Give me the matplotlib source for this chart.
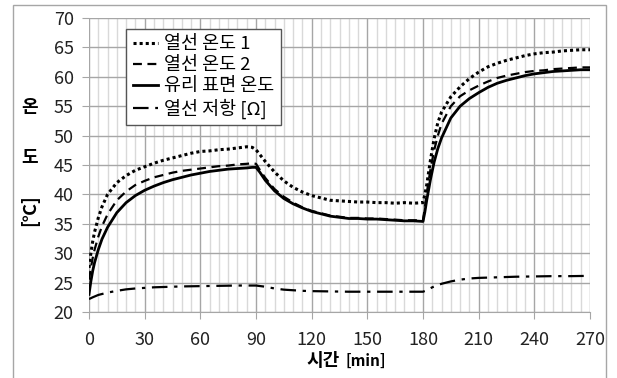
import matplotlib
matplotlib.use("Agg")
import matplotlib.pyplot as plt
from matplotlib.ticker import MultipleLocator
from matplotlib.patches import Rectangle

plt.rcParams['font.family'] = ['Noto Sans CJK KR', 'DejaVu Sans']

# time axis [min] for the temperature series
t = [0, 1, 2, 3, 5, 7, 10, 15, 20, 25, 30, 35, 40, 45, 50, 55, 60, 65, 70, 75, 80, 85, 88, 90,
     92, 95, 100, 105, 110, 115, 120, 125, 130, 135, 140, 145, 150, 155, 160, 165, 170, 175, 180,
     181, 182, 184, 186, 188, 190, 195, 200, 205, 210, 215, 220, 225, 230, 235, 240, 245, 250,
     255, 260, 265, 270]

wire_temp1 = [27.5, 30.0, 32.0, 33.6, 36.0, 37.9, 40.0, 42.0, 43.2, 44.1, 44.7, 45.3, 45.8, 46.2,
              46.6, 47.0, 47.3, 47.4, 47.6, 47.7, 47.9, 48.1, 48.0, 47.6,
              46.8, 45.6, 43.8, 42.3, 41.2, 40.4, 39.8, 39.4, 39.0, 38.9, 38.8, 38.7, 38.7, 38.6,
              38.6, 38.5, 38.6, 38.5, 38.6,
              40.0, 41.6, 45.8, 49.5, 52.2, 54.0, 56.6, 58.3, 59.7, 60.8, 61.7, 62.3, 62.8, 63.2,
              63.6, 63.9, 64.1, 64.2, 64.4, 64.5, 64.6, 64.6]

wire_temp2 = [25.5, 27.5, 29.2, 30.6, 32.8, 34.6, 36.6, 39.0, 40.5, 41.6, 42.3, 42.9, 43.3, 43.7,
              44.0, 44.2, 44.4, 44.6, 44.8, 44.9, 45.1, 45.2, 45.3, 45.2,
              44.2, 42.8, 40.9, 39.6, 38.6, 37.8, 37.2, 36.8, 36.4, 36.2, 36.0, 36.0, 35.9, 35.9,
              35.8, 35.7, 35.6, 35.6, 35.6,
              37.8, 40.2, 44.2, 47.5, 50.0, 52.0, 55.0, 56.7, 57.7, 58.5, 59.2, 59.8, 60.2, 60.5,
              60.8, 61.0, 61.1, 61.3, 61.4, 61.5, 61.6, 61.6]

glass_temp = [23.0, 25.2, 27.0, 28.4, 30.6, 32.4, 34.4, 36.9, 38.6, 39.8, 40.7, 41.4, 42.0, 42.5,
              42.9, 43.3, 43.6, 43.9, 44.1, 44.3, 44.4, 44.5, 44.6, 44.6,
              43.8, 42.4, 40.6, 39.3, 38.4, 37.7, 37.1, 36.7, 36.3, 36.1, 35.9, 35.9, 35.8, 35.8,
              35.7, 35.6, 35.5, 35.5, 35.4,
              37.0, 39.0, 42.5, 45.5, 47.8, 49.6, 53.0, 55.0, 56.3, 57.3, 58.2, 58.9, 59.4, 59.8,
              60.2, 60.5, 60.7, 60.9, 61.0, 61.1, 61.2, 61.2]

# wire resistance [Ohm]
t_res = [0, 2, 5, 10, 15, 20, 25, 30, 35, 40, 45, 50, 60, 70, 80, 90, 95, 100, 105, 110, 115, 120,
         130, 140, 150, 160, 170, 180, 182, 185, 190, 195, 200, 205, 210, 220, 230, 240, 250, 260, 270]
wire_res = [22.2, 22.5, 22.9, 23.3, 23.6, 23.85, 24.0, 24.1, 24.2, 24.25, 24.3, 24.35, 24.4, 24.45,
            24.5, 24.5, 24.3, 24.0, 23.8, 23.7, 23.6, 23.55, 23.5, 23.45, 23.45, 23.45, 23.45, 23.45,
            23.7, 24.2, 24.8, 25.2, 25.5, 25.7, 25.8, 25.9, 26.0, 26.05, 26.1, 26.1, 26.15]

labels = ['열선 온도 1', '열선 온도 2', '유리 표면 온도', '열선 저항 [Ω]']
x_ticks = [0, 30, 60, 90, 120, 150, 180, 210, 240, 270]
y_ticks = [20, 25, 30, 35, 40, 45, 50, 55, 60, 65, 70]

W, H = 617, 378
fig = plt.figure(figsize=(W / 100, H / 100), dpi=100)
ax = fig.add_axes([89 / W, 1 - 312 / H, (590 - 89) / W, (312 - 18) / H])

# outer border
fig.patches.append(Rectangle((13 / W, -0.05), (606 - 13) / W, 1 - 5 / H + 0.05,
                             transform=fig.transFigure, fill=False,
                             edgecolor='#a6a6a6', linewidth=1.0))

ax.plot(t, wire_temp1, color='black', linestyle=(0, (1, 1)), linewidth=2.2, label=labels[0])
ax.plot(t, wire_temp2, color='black', linestyle=(0, (4, 2.5)), linewidth=1.6, label=labels[1])
ax.plot(t, glass_temp, color='black', linestyle='-', linewidth=2.0, label=labels[2])
ax.plot(t_res, wire_res, color='black', linestyle=(0, (7, 3, 1.5, 3)), linewidth=1.6, label=labels[3])

ax.set_xlim(0, 270)
ax.set_ylim(20, 70)
ax.set_xticks(x_ticks)
ax.set_yticks(y_ticks)
ax.xaxis.set_minor_locator(MultipleLocator(5))
ax.grid(True, which='major', color='#a6a6a6', linewidth=1.0)
ax.grid(True, which='minor', axis='x', color='#d9d9d9', linewidth=1.0)
ax.set_axisbelow(True)

for s in ['top', 'right']:
    ax.spines[s].set_visible(False)
ax.spines['left'].set_visible(False)
ax.spines['bottom'].set_color('#a6a6a6')
ax.tick_params(axis='both', which='major', length=5, color='#a6a6a6', labelsize=13,
               labelcolor='#222222')
ax.tick_params(axis='x', which='major', pad=9)
ax.tick_params(axis='y', which='major', pad=6)
ax.tick_params(axis='x', which='minor', length=0)

leg = ax.legend(loc='upper left', bbox_to_anchor=(0.074, 0.963), borderaxespad=0,
                fontsize=13.3, frameon=True, fancybox=False, framealpha=1,
                handlelength=1.4, handletextpad=0.3, labelspacing=0.16,
                borderpad=0.35)
leg.get_frame().set_edgecolor('#555555')
leg.get_frame().set_linewidth(1.0)

# axis titles
fig.text(323 / W, 1 - 361 / H, '시간', fontsize=13, fontweight='bold', ha='center', va='center')
fig.text(366 / W, 1 - 361 / H, '[min]', fontsize=11, fontweight='bold', ha='center', va='center')
fig.text(30 / W, 1 - 107 / H, '온', fontsize=13, fontweight='bold', ha='center', va='center')
fig.text(30 / W, 1 - 157 / H, '도', fontsize=13, fontweight='bold', ha='center', va='center')
fig.text(30 / W, 1 - 210 / H, '[℃]', fontsize=13, fontweight='bold', ha='center', va='center',
         rotation=90)

fig.savefig('out.png', dpi=100)
